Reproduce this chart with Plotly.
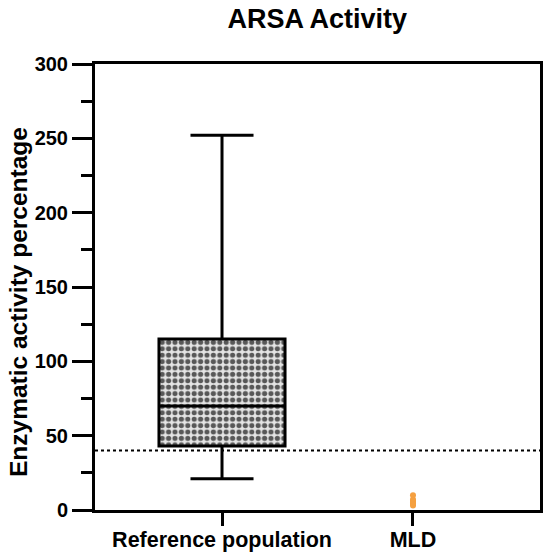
import plotly.graph_objects as go

categories = ["Reference population", "MLD"]
ref_stats = {"lowerfence": 21, "q1": 43, "median": 70, "q3": 115, "upperfence": 252}
mld_values = [10, 7, 6, 5, 4, 3]
threshold = 40
y_ticks = [0, 50, 100, 150, 200, 250, 300]

FONT = "Liberation Sans"

fig = go.Figure()

# checkered box body
fig.add_trace(go.Bar(
    x=[categories[0]], y=[ref_stats["q3"] - ref_stats["q1"]], base=[ref_stats["q1"]],
    width=0.66,
    marker=dict(color="#dcdcdc", line=dict(width=0),
                pattern=dict(shape=".", fgcolor="#585858", bgcolor="#e4e4e4",
                             size=6.4, solidity=0.5, fillmode="replace")),
    showlegend=False, hoverinfo="skip",
))

# box outline + whiskers
fig.add_trace(go.Box(
    x=[categories[0]],
    q1=[ref_stats["q1"]], median=[ref_stats["median"]], q3=[ref_stats["q3"]],
    lowerfence=[ref_stats["lowerfence"]], upperfence=[ref_stats["upperfence"]],
    width=0.66, whiskerwidth=0.5,
    fillcolor="rgba(0,0,0,0)",
    line=dict(color="black", width=3),
    showlegend=False,
))

# MLD points
fig.add_trace(go.Scatter(
    x=[categories[1]] * len(mld_values), y=mld_values, mode="markers",
    marker=dict(color="#F5A040", size=6),
    showlegend=False, cliponaxis=False,
))

fig.add_hline(y=threshold, line=dict(color="black", width=2, dash="dot"))

fig.update_layout(
    width=550, height=557,
    margin=dict(l=95, r=10, t=64, b=47),
    paper_bgcolor="white", plot_bgcolor="white",
    title=dict(text="<b>ARSA Activity</b>", x=0.577, xanchor="center", y=0.966, yanchor="middle",
               font=dict(family=FONT, size=27, color="black")),
    font=dict(family=FONT, color="black"),
    bargap=0,
    annotations=[dict(
        text="<b>Enzymatic activity percentage</b>", textangle=-90,
        xref="paper", yref="paper", x=(18 - 95) / 445, y=(510 - 302) / 446,
        xanchor="center", yanchor="middle", showarrow=False,
        font=dict(family=FONT, size=24.5, color="black"),
    )],
)

fig.update_xaxes(
    type="category", categoryorder="array", categoryarray=categories,
    range=[-0.665, 1.665], automargin=False,
    showline=True, linecolor="black", linewidth=3, mirror=True,
    ticks="outside", ticklen=13, tickwidth=3, tickcolor="black",
    ticklabelstandoff=-5,
    tickfont=dict(family=FONT, size=21.5, color="black", weight="bold"),
    showgrid=False, zeroline=False,
)

fig.update_yaxes(
    range=[0, 300], tickvals=y_ticks, ticktext=[str(v) for v in y_ticks],
    automargin=False,
    showline=True, linecolor="black", linewidth=3, mirror=True,
    ticks="outside", ticklen=20, tickwidth=3, tickcolor="black",
    minor=dict(dtick=25, ticks="outside", ticklen=11, tickwidth=3, tickcolor="black", showgrid=False),
    tickfont=dict(family=FONT, size=20, color="black", weight="bold"),
    showgrid=False, zeroline=False,
)

fig.write_html("out.html", config={"displayModeBar": False},
               post_script="document.body.style.margin='0';")
